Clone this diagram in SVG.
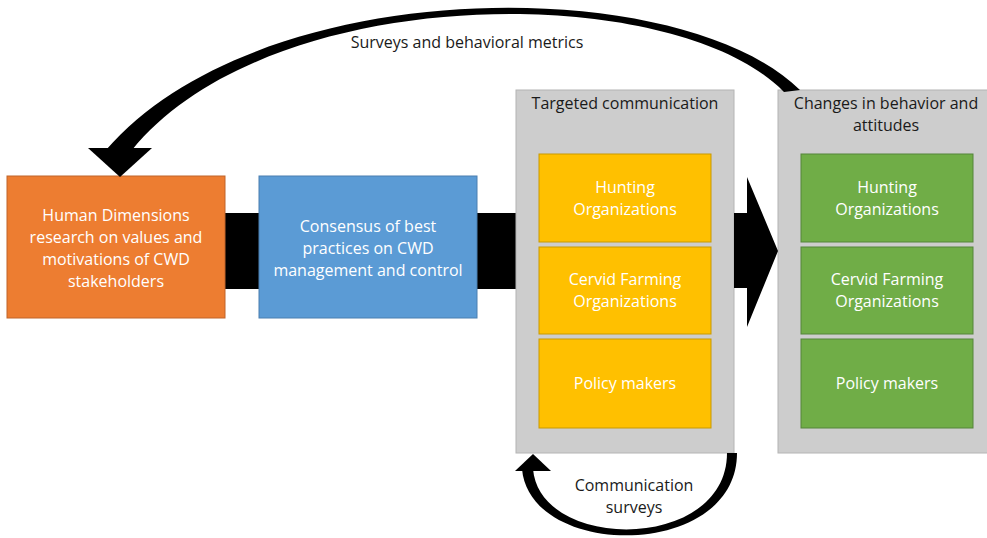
<svg xmlns="http://www.w3.org/2000/svg" width="987" height="538" viewBox="0 0 987 538">
<style>
text{font-family:"Open Sans","Noto Sans","Liberation Sans",sans-serif;font-size:16px;text-anchor:middle}
.w{fill:#ffffff}
.d{fill:#1a1a1a}
.gray{fill:#cdcdcd;stroke:#b4b4b4;stroke-width:1}
.yel{fill:#ffc000;stroke:#c99a00;stroke-width:1}
.grn{fill:#70ad47;stroke:#55853a;stroke-width:1}
.blk{fill:#000000}
</style>
<rect width="987" height="538" fill="#ffffff"/>
<g id="connectors">
  <rect class="blk" x="224" y="213" width="36" height="76"/>
  <rect class="blk" x="476" y="213" width="41" height="76"/>
</g>
<g id="human-dimensions">
  <rect x="7" y="176" width="218" height="142" fill="#ed7d31" stroke="#c0652a"/>
  <text class="w" x="116" y="221">Human Dimensions</text>
  <text class="w" x="116" y="243">research on values and</text>
  <text class="w" x="116" y="265">motivations of CWD</text>
  <text class="w" x="116" y="287">stakeholders</text>
</g>
<g id="consensus">
  <rect x="259" y="176" width="218" height="142" fill="#5b9bd5" stroke="#4a7fb0"/>
  <text class="w" x="368" y="232">Consensus of best</text>
  <text class="w" x="368" y="254">practices on CWD</text>
  <text class="w" x="368" y="276">management and control</text>
</g>
<g id="targeted-communication">
  <rect class="gray" x="516" y="90" width="218" height="363"/>
  <text class="d" x="625" y="109">Targeted communication</text>
  <rect class="yel" x="539" y="154" width="172" height="88"/>
  <text class="w" x="625" y="193">Hunting</text>
  <text class="w" x="625" y="215">Organizations</text>
  <rect class="yel" x="539" y="247" width="172" height="87"/>
  <text class="w" x="625" y="285">Cervid Farming</text>
  <text class="w" x="625" y="307">Organizations</text>
  <rect class="yel" x="539" y="339" width="172" height="89"/>
  <text class="w" x="625" y="389">Policy makers</text>
</g>
<g id="changes">
  <rect class="gray" x="778" y="90" width="215" height="363"/>
  <text class="d" x="886" y="109">Changes in behavior and</text>
  <text class="d" x="886" y="131">attitudes</text>
  <rect class="grn" x="801" y="154" width="172" height="88"/>
  <text class="w" x="887" y="193">Hunting</text>
  <text class="w" x="887" y="215">Organizations</text>
  <rect class="grn" x="801" y="247" width="172" height="87"/>
  <text class="w" x="887" y="285">Cervid Farming</text>
  <text class="w" x="887" y="307">Organizations</text>
  <rect class="grn" x="801" y="339" width="172" height="89"/>
  <text class="w" x="887" y="389">Policy makers</text>
</g>
<g id="arrows">
  <path class="blk" d="M734 213 L747 213 L747 177 L778 251 L747 327 L747 288 L734 288 Z"/>
  <path class="blk" d="M800 90 C680 -28 260 -28 106 150 L132 150 C270 -20 675 -20 784 92 Z"/>
  <polygon class="blk" points="88,148 152,148 120,177"/>
  <path class="blk" d="M737 453 C737 560 530 560 522 469 L533 469 C540 552 727 552 727 453 Z"/>
  <polygon class="blk" points="515,471 551,471 533,454"/>
  <text class="d" x="467" y="48">Surveys and behavioral metrics</text>
  <text class="d" x="634" y="491">Communication</text>
  <text class="d" x="634" y="513">surveys</text>
</g>
</svg>
